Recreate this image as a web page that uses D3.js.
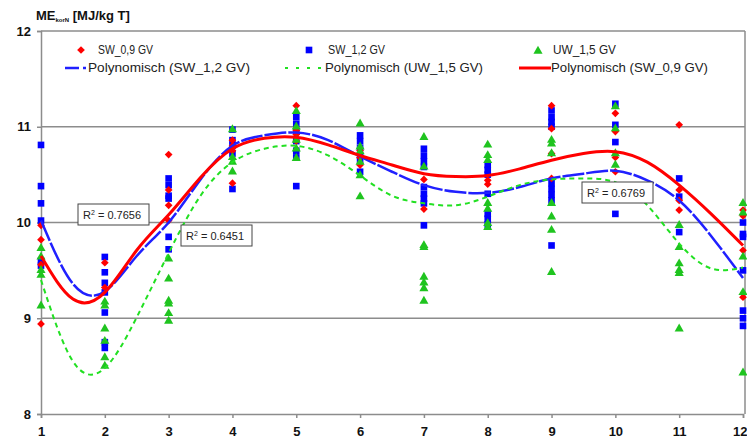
<!DOCTYPE html>
<html lang="de">
<head>
<meta charset="utf-8">
<style type="text/css">
    body { margin: 0; background: #fff; }
    svg { display: block; font-family: "Liberation Sans Narrow", "Liberation Sans", Arial, sans-serif; }
    .grid { stroke: #8c8c8c; stroke-width: 1.5px; }
    .tick-label { font-weight: bold; font-size: 13px; fill: #111; }
    .leg { font-size: 12px; fill: #222; }
    .r2 { font-size: 11px; fill: #222; }
</style>
</head>
<body>
<svg width="747" height="446"></svg>
<script src="https://cdn.jsdelivr.net/npm/d3@7"></script>
<script type="text/javascript">

// months on x axis
var months = [1, 2, 3, 4, 5, 6, 7, 8, 9, 10, 11, 12];
var yTicks = [8, 9, 10, 11, 12];

// measured points, [month, value]
var sw09 = [
    [1, 9.97], [1, 9.82], [1, 9.56], [1, 8.94],
    [2, 9.58], [2, 9.32],
    [3, 10.71], [3, 10.34], [3, 10.18], [3, 10.02],
    [4, 10.86], [4, 10.8], [4, 10.75], [4, 10.41],
    [5, 11.22], [5, 10.96], [5, 10.92], [5, 10.85],
    [6, 10.75], [6, 10.68], [6, 10.6],
    [7, 10.45], [7, 10.14],
    [8, 10.44], [8, 10.4],
    [9, 11.22], [9, 10.98], [9, 10.72], [9, 10.46],
    [10, 11.14], [10, 10.95], [10, 10.68], [10, 10.53],
    [11, 11.02], [11, 10.34], [11, 10.23], [11, 10.13],
    [12, 10.13], [12, 10.07], [12, 9.71], [12, 9.22]
];
var sw12 = [
    [1, 10.81], [1, 10.38], [1, 10.2], [1, 10.02], [1, 9.6], [1, 9.55],
    [2, 9.64], [2, 9.48], [2, 9.37], [2, 9.27], [2, 9.06], [2, 8.75], [2, 8.69],
    [3, 10.46], [3, 10.39], [3, 10.28], [3, 10.25], [3, 9.85], [3, 9.72],
    [4, 10.97], [4, 10.86], [4, 10.8], [4, 10.72], [4, 10.35],
    [5, 11.1], [5, 11.03], [5, 10.95], [5, 10.85], [5, 10.75], [5, 10.68], [5, 10.38],
    [6, 10.91], [6, 10.85], [6, 10.78], [6, 10.7], [6, 10.65], [6, 10.53],
    [7, 10.77], [7, 10.7], [7, 10.64], [7, 10.58], [7, 10.37], [7, 10.3], [7, 10.25], [7, 10.2], [7, 9.97],
    [8, 10.6], [8, 10.55], [8, 10.5], [8, 10.3], [8, 10.09], [8, 10.04], [8, 9.98],
    [9, 11.17], [9, 11.1], [9, 11.05], [9, 11.0], [9, 10.41], [9, 10.35], [9, 10.29], [9, 10.23], [9, 9.76],
    [10, 11.24], [10, 11.02], [10, 10.84], [10, 10.09],
    [11, 10.46], [11, 10.27], [11, 9.9],
    [12, 10.0], [12, 9.88], [12, 9.85], [12, 9.5], [12, 9.08], [12, 9.0], [12, 8.92]
];
var uw15 = [
    [1, 9.73], [1, 9.64], [1, 9.5], [1, 9.45], [1, 9.13],
    [2, 9.17], [2, 9.13], [2, 8.89], [2, 8.76], [2, 8.59], [2, 8.5],
    [3, 9.62], [3, 9.41], [3, 9.18], [3, 9.15], [3, 9.05], [3, 8.97],
    [4, 10.97], [4, 10.68], [4, 10.63], [4, 10.53],
    [5, 11.16], [5, 11.0], [5, 10.86], [5, 10.77], [5, 10.67],
    [6, 11.03], [6, 10.79], [6, 10.74], [6, 10.63], [6, 10.49], [6, 10.27],
    [7, 10.89], [7, 10.58], [7, 9.76], [7, 9.74], [7, 9.43], [7, 9.37], [7, 9.31], [7, 9.18],
    [8, 10.81], [8, 10.7], [8, 10.65], [8, 10.2], [8, 10.14], [8, 9.99], [8, 9.95],
    [9, 10.86], [9, 10.82], [9, 10.72], [9, 10.2], [9, 10.06], [9, 9.92], [9, 9.48],
    [10, 11.21], [10, 10.98], [10, 10.72], [10, 10.6],
    [11, 9.97], [11, 9.74], [11, 9.57], [11, 9.5], [11, 9.47], [11, 8.89],
    [12, 10.2], [12, 10.1], [12, 9.64], [12, 9.27], [12, 8.43]
];

// polynomial trend lines, every half month
var trendX = [1, 1.5, 2, 2.5, 3, 3.5, 4, 4.5, 5, 5.5, 6, 6.5, 7, 7.5, 8, 8.5, 9, 9.5, 10, 10.5, 11, 11.5, 12];
var trendSw09 = [9.65, 9.2, 9.27, 9.71, 10.08, 10.47, 10.77, 10.88, 10.89, 10.81, 10.7, 10.6, 10.51, 10.48, 10.49, 10.56, 10.65, 10.72, 10.74, 10.63, 10.39, 10.09, 9.76];
var trendSw12 = [10.02, 9.36, 9.28, 9.65, 10.0, 10.45, 10.8, 10.91, 10.94, 10.86, 10.69, 10.53, 10.39, 10.32, 10.31, 10.37, 10.46, 10.51, 10.54, 10.44, 10.23, 9.86, 9.42];
var trendUw15 = [9.4, 8.55, 8.48, 9.01, 9.68, 10.28, 10.63, 10.77, 10.8, 10.7, 10.49, 10.28, 10.2, 10.18, 10.27, 10.39, 10.45, 10.46, 10.42, 10.18, 9.78, 9.52, 9.53];

var r2Labels = ["0.7656", "0.6451", "0.6769"];

var red = "#ff0000", blue = "#0000ff", green = "#1fc41f", greenLine = "#22e022";

var svg = d3.select("svg");
var x = d3.scaleLinear().domain([1, 12]).range([41, 743]);
var y = d3.scaleLinear().domain([8, 12]).range([414, 31]);

// gridlines + frame
svg.selectAll(".grid")
    .data(yTicks.filter(function (d) { return d > 8; }))
    .enter().append("line")
    .attr("class", "grid")
    .attr("x1", x(1)).attr("x2", 745)
    .attr("y1", function (d) { return y(d); })
    .attr("y2", function (d) { return y(d); });

svg.append("line").attr("class", "grid")
    .attr("x1", 745).attr("x2", 745).attr("y1", y(12)).attr("y2", y(8));

// axes
var yAxis = svg.append("g").attr("transform", "translate(" + x(1) + ",0)")
    .call(d3.axisLeft(y).tickValues(yTicks).tickSize(4).tickPadding(6).tickFormat(d3.format("d")));
var xAxis = svg.append("g").attr("transform", "translate(0," + y(8) + ")")
    .call(d3.axisBottom(x).tickValues(months).tickSize(4).tickPadding(9).tickFormat(d3.format("d")));

[xAxis, yAxis].forEach(function (ax) {
    ax.select(".domain").attr("stroke", "#8c8c8c").attr("stroke-width", 1.5);
    ax.selectAll(".tick line").attr("stroke", "#8c8c8c").attr("stroke-width", 1.5);
    ax.selectAll(".tick text").attr("class", "tick-label").attr("font-family", null).attr("font-size", null);
});
// last month label sits at the right edge, keep it inside
xAxis.selectAll(".tick text").filter(function (d) { return d === 12; })
    .attr("text-anchor", "end").attr("x", 4);

// title
var title = svg.append("text").attr("x", 36).attr("y", 20)
    .attr("font-weight", "bold").attr("font-size", 13).attr("fill", "#111");
title.append("tspan").text("ME");
title.append("tspan").attr("font-size", 6).attr("dy", 2).text("korN");
title.append("tspan").attr("dy", -2).text(" [MJ/kg T]");

// markers
var diamond = d3.symbol().type(d3.symbolSquare).size(30);
var square = d3.symbol().type(d3.symbolSquare).size(44);
var triangle = d3.symbol().type(d3.symbolTriangle).size(36);

function drawPoints(data, sym, color, rot) {
    svg.append("g").selectAll("path")
        .data(data)
        .enter().append("path")
        .attr("d", sym)
        .attr("fill", color)
        .attr("transform", function (d) {
            return "translate(" + x(d[0]) + "," + y(d[1]) + ")" + (rot ? " rotate(45)" : "");
        });
}

drawPoints(sw12, square, blue, false);
drawPoints(sw09, diamond, red, true);
drawPoints(uw15, triangle, green, false);

// trend lines
var line = d3.line()
    .x(function (d) { return x(d[0]); })
    .y(function (d) { return y(d[1]); })
    .curve(d3.curveNatural);

function drawTrend(vals, color, width, dash) {
    svg.append("path")
        .datum(trendX.map(function (t, i) { return [t, vals[i]]; }))
        .attr("d", line)
        .attr("fill", "none")
        .attr("stroke", color)
        .attr("stroke-width", width)
        .attr("stroke-dasharray", dash);
}

drawTrend(trendSw12, "#2020ff", 2.5, "22,2");
drawTrend(trendUw15, greenLine, 2, "5,4");
drawTrend(trendSw09, red, 3, null);

// R² boxes
var r2Pos = [[78, 204], [181, 225], [582, 182]];
r2Labels.forEach(function (lab, i) {
    var g = svg.append("g").attr("transform", "translate(" + r2Pos[i][0] + "," + r2Pos[i][1] + ")");
    g.append("rect").attr("width", 71).attr("height", 21)
        .attr("fill", "#fff").attr("stroke", "#444").attr("stroke-width", 1);
    var t = g.append("text").attr("class", "r2").attr("x", 5).attr("y", 14.5);
    t.append("tspan").text("R");
    t.append("tspan").attr("font-size", 7).attr("dy", -4).text("2");
    t.append("tspan").attr("dy", 4).text(" = " + lab);
});

// legend
var legend = svg.append("g");
var legRow1 = 50, legRow2 = 68;

legend.append("path").attr("d", diamond).attr("fill", red)
    .attr("transform", "translate(81," + legRow1 + ") rotate(45)");
legend.append("path").attr("d", square).attr("fill", blue)
    .attr("transform", "translate(309," + legRow1 + ")");
legend.append("path").attr("d", triangle).attr("fill", green)
    .attr("transform", "translate(538," + (legRow1 + 1) + ")");

var legText = [
    ["SW_0,9 GV", 98, legRow1, 55],
    ["SW_1,2 GV", 328, legRow1, 57],
    ["UW_1,5 GV", 553, legRow1, 63],
    ["Polynomisch (SW_1,2 GV)", 88, legRow2, 162],
    ["Polynomisch (UW_1,5 GV)", 325, legRow2, 158],
    ["Polynomisch (SW_0,9 GV)", 551, legRow2, 157]
];
legend.selectAll("text.leg")
    .data(legText)
    .enter().append("text")
    .attr("class", "leg")
    .attr("x", function (d) { return d[1]; })
    .attr("y", function (d) { return d[2] + 4; })
    .attr("textLength", function (d) { return d[3]; })
    .attr("lengthAdjust", "spacingAndGlyphs")
    .text(function (d) { return d[0]; });

legend.append("line").attr("x1", 65).attr("x2", 86).attr("y1", legRow2).attr("y2", legRow2)
    .attr("stroke", "#2020ff").attr("stroke-width", 2.5).attr("stroke-dasharray", "14,4");
legend.append("line").attr("x1", 285).attr("x2", 323).attr("y1", legRow2).attr("y2", legRow2)
    .attr("stroke", greenLine).attr("stroke-width", 2).attr("stroke-dasharray", "3,8");
legend.append("line").attr("x1", 519).attr("x2", 551).attr("y1", legRow2).attr("y2", legRow2)
    .attr("stroke", red).attr("stroke-width", 3);

</script>
</body>
</html>
